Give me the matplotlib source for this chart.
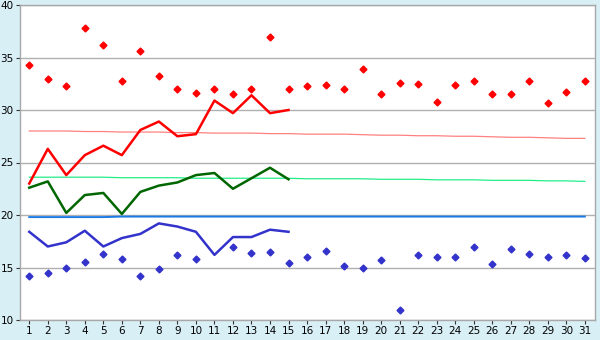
import matplotlib.pyplot as plt
import numpy as np

days = list(range(1, 32))

# record highs / lows per day (markers)
rec_max = [34.3, 33.0, 32.3, 37.8, 36.2, 32.8, 35.6, 33.2, 32.0, 31.6,
           32.0, 31.5, 32.0, 37.0, 32.0, 32.3, 32.4, 32.0, 33.9, 31.5,
           32.6, 32.5, 30.8, 32.4, 32.8, 31.5, 31.5, 32.8, 30.7, 31.7, 32.8]
rec_min = [14.2, 14.5, 15.0, 15.5, 16.3, 15.8, 14.2, 14.9, 16.2, 15.8,
           np.nan, 17.0, 16.4, 16.5, 15.4, 16.0, 16.6, 15.1, 15.0, 15.7,
           11.0, 16.2, 16.0, 16.0, 17.0, 15.3, 16.8, 16.3, 16.0, 16.2, 15.9]

# this month (first 15 days)
cur_days = list(range(1, 16))
cur_max = [23.0, 26.3, 23.8, 25.7, 26.6, 25.7, 28.1, 28.9, 27.5, 27.7,
           30.9, 29.7, 31.4, 29.7, 30.0]
cur_avg = [22.6, 23.2, 20.2, 21.9, 22.1, 20.1, 22.2, 22.8, 23.1, 23.8,
           24.0, 22.5, 23.5, 24.5, 23.4]
cur_min = [18.4, 17.0, 17.4, 18.5, 17.0, 17.8, 18.2, 19.2, 18.9, 18.4,
           16.2, 17.9, 17.9, 18.6, 18.4]

# long-term normals
norm_max = [28.0, 28.0, 28.0, 27.95, 27.95, 27.9, 27.9, 27.9, 27.85, 27.85,
            27.8, 27.8, 27.8, 27.75, 27.75, 27.7, 27.7, 27.7, 27.65, 27.6,
            27.6, 27.55, 27.55, 27.5, 27.5, 27.45, 27.4, 27.4, 27.35, 27.3, 27.3]
norm_avg = [23.6, 23.6, 23.6, 23.6, 23.6, 23.55, 23.55, 23.55, 23.55, 23.5,
            23.5, 23.5, 23.5, 23.5, 23.5, 23.45, 23.45, 23.45, 23.45, 23.4,
            23.4, 23.4, 23.35, 23.35, 23.35, 23.3, 23.3, 23.3, 23.25, 23.25, 23.2]
norm_min = [19.8, 19.8, 19.8, 19.8, 19.8, 19.85, 19.85, 19.85, 19.85, 19.85,
            19.85, 19.85, 19.85, 19.85, 19.85, 19.85, 19.85, 19.85, 19.85, 19.85,
            19.85, 19.85, 19.85, 19.85, 19.85, 19.85, 19.85, 19.85, 19.85, 19.85, 19.85]

bg = "#d9eff6"
fig = plt.figure(figsize=(6, 3.4), dpi=100, facecolor=bg)
ax = fig.add_axes([20 / 600, 20 / 340, 575 / 600, 315 / 340])
ax.set_facecolor("white")

ax.set_xlim(0.5, 31.55)
ax.set_ylim(10, 40)
ax.set_yticks(range(10, 41, 5))
ax.set_xticks(days)
ax.grid(axis="y", color="#b0b0b0", lw=1)
ax.set_axisbelow(True)
for s in ax.spines.values():
    s.set_color("#a8a8a8")
    s.set_linewidth(1)
ax.tick_params(labelsize=7.5, length=3, color="#333333", pad=1.5)

ax.plot(days, norm_max, color="#ff8080", lw=0.9)
ax.plot(days, norm_avg, color="#22ee88", lw=0.9)
ax.plot(days, norm_min, color="#1a7ae6", lw=1.4)

ax.plot(cur_days, cur_max, color="#ff0000", lw=1.8)
ax.plot(cur_days, cur_avg, color="#006600", lw=1.8)
ax.plot(cur_days, cur_min, color="#3333cc", lw=1.8)

ax.plot(days, rec_max, ls="none", marker="D", ms=3.5, color="#ff0000")
ax.plot(days, rec_min, ls="none", marker="D", ms=3.5, color="#3333cc")

fig.savefig("out.png", dpi=100, facecolor=bg)
